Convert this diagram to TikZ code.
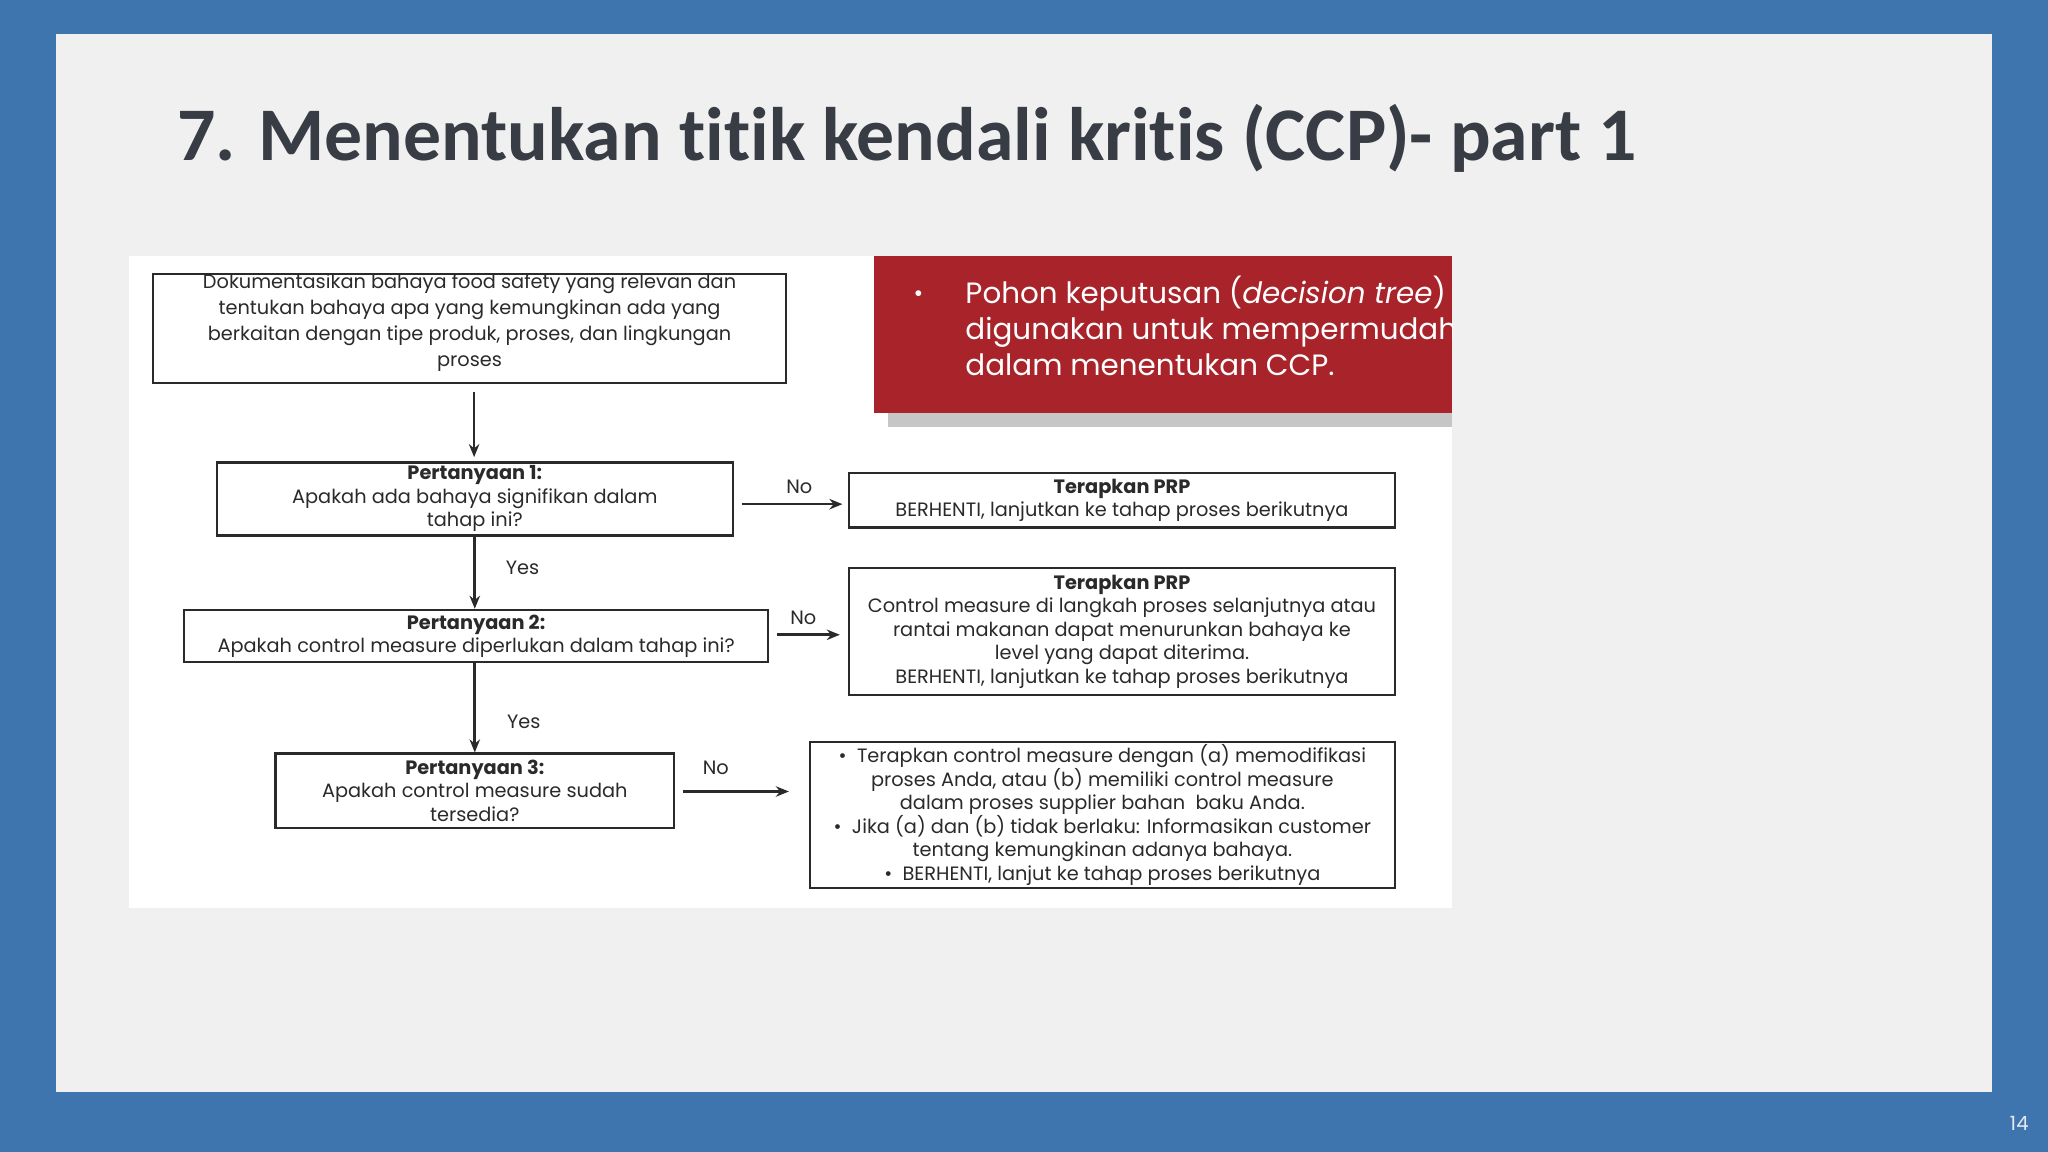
\documentclass[tikz,border=0pt]{standalone}
\usepackage{fontspec}
\setmainfont{Poppins}
\newfontfamily\titlefont[Ligatures=NoCommon]{Carlito}
\usetikzlibrary{arrows.meta}
\definecolor{bgblue}{HTML}{3F75AE}
\definecolor{panel}{HTML}{F0F0F0}
\definecolor{redbox}{HTML}{A8232A}
\definecolor{titlec}{HTML}{383C44}
\definecolor{ink}{HTML}{2A2A2A}
\tikzset{
  box/.style={draw=ink, line width=1.8pt, inner sep=0pt, align=center, text=ink,
    font=\fontsize{14.8}{18}\selectfont},
  arr/.style={-{Stealth[length=10pt,width=8pt]}, line width=2pt, draw=ink},
  lbl/.style={text=ink, font=\fontsize{14.8}{18}\selectfont}
}
\begin{document}
\begin{tikzpicture}[x=1pt,y=-1pt]
\fill[bgblue] (0,0) rectangle (1568,882);
\useasboundingbox (0,0) rectangle (1568,882);
\fill[panel] (43,26) rectangle (1525,836);
\node[anchor=west, text=titlec, font=\titlefont\bfseries\fontsize{58}{68}\selectfont] (title) at (132,106) {7. Menentukan titik kendali kritis (CCP)- part 1};
\fill[white] (99,196) rectangle (1112,695);
\fill[gray!45] (680,316) rectangle (1112,327);
\fill[redbox] (669,196) rectangle (1112,316);
\begin{scope}
\clip (669,196) rectangle (1112,316);
\node[anchor=west, text=white, font=\fontsize{18}{20}\selectfont] (bul) at (696,227) {•};
\node[anchor=north west, text=white, align=left, inner sep=0pt, font=\fontsize{22.5}{27.5}\selectfont] (redtext) at (739,211)
 {Pohon keputusan (\textit{decision tree}) d\\digunakan untuk mempermudah\\dalam menentukan CCP.};
\end{scope}
\node[box, minimum width=485, minimum height=83] (A) at (359.5,251.5)
 {\\[-16pt]Dokumentasikan bahaya food safety yang relevan dan\\[2pt]tentukan bahaya apa yang kemungkinan ada yang\\[2pt]berkaitan dengan tipe produk, proses, dan lingkungan\\[2pt]proses};
\node[box, minimum width=395, minimum height=56] (Q1) at (363.5,382)
 {\textbf{Pertanyaan 1:}\\Apakah ada bahaya signifikan dalam\\tahap ini?};
\node[box, minimum width=418, minimum height=42] (R1) at (859,383)
 {\textbf{Terapkan PRP}\\BERHENTI, lanjutkan ke tahap proses berikutnya};
\node[box, minimum width=447, minimum height=40] (Q2) at (364.5,487)
 {\textbf{Pertanyaan 2:}\\Apakah control measure diperlukan dalam tahap ini?};
\node[box, minimum width=418, minimum height=97] (R2) at (859,483.5)
 {\textbf{Terapkan PRP}\\Control measure di langkah proses selanjutnya atau\\rantai makanan dapat menurunkan bahaya ke\\level yang dapat diterima.\\BERHENTI, lanjutkan ke tahap proses berikutnya};
\node[box, minimum width=305, minimum height=57] (Q3) at (363.5,605.5)
 {\textbf{Pertanyaan 3:}\\Apakah control measure sudah\\tersedia?};
\node[box, minimum width=448, minimum height=112] (R3) at (844,624)
 {•\ \ Terapkan control measure dengan (a) memodifikasi\\proses Anda, atau (b) memiliki control measure\\dalam proses supplier bahan\ \ baku Anda.\\•\ \ Jika (a) dan (b) tidak berlaku: Informasikan customer\\tentang kemungkinan adanya bahaya.\\•\ \ BERHENTI, lanjut ke tahap proses berikutnya};
\coordinate (a1) at (363,300);
\coordinate (a2) at (363,350);
\draw[arr] (a1) -- (a2);
\draw[arr] (Q1.south) -- (Q2.north -| Q1.south);
\draw[arr] (Q2.south -| Q1.south) -- (Q3.north -| Q1.south);
\coordinate (n1s) at (568,386); \coordinate (n1e) at (645,386);
\draw[arr] (n1s) -- (n1e);
\coordinate (n2s) at (595,486); \coordinate (n2e) at (643,486);
\draw[arr] (n2s) -- (n2e);
\coordinate (n3s) at (523,606); \coordinate (n3e) at (604,606);
\draw[arr] (n3s) -- (n3e);
\node[lbl] (no1) at (612,373) {No};
\node[lbl] (no2) at (615,473) {No};
\node[lbl] (no3) at (548,588) {No};
\node[lbl] (yes1) at (400,435) {Yes};
\node[lbl] (yes2) at (401,553) {Yes};
\node[text=white!85!bgblue, font=\fontsize{15}{17}\selectfont] (pg) at (1546,860) {14};
\end{tikzpicture}
\end{document}
